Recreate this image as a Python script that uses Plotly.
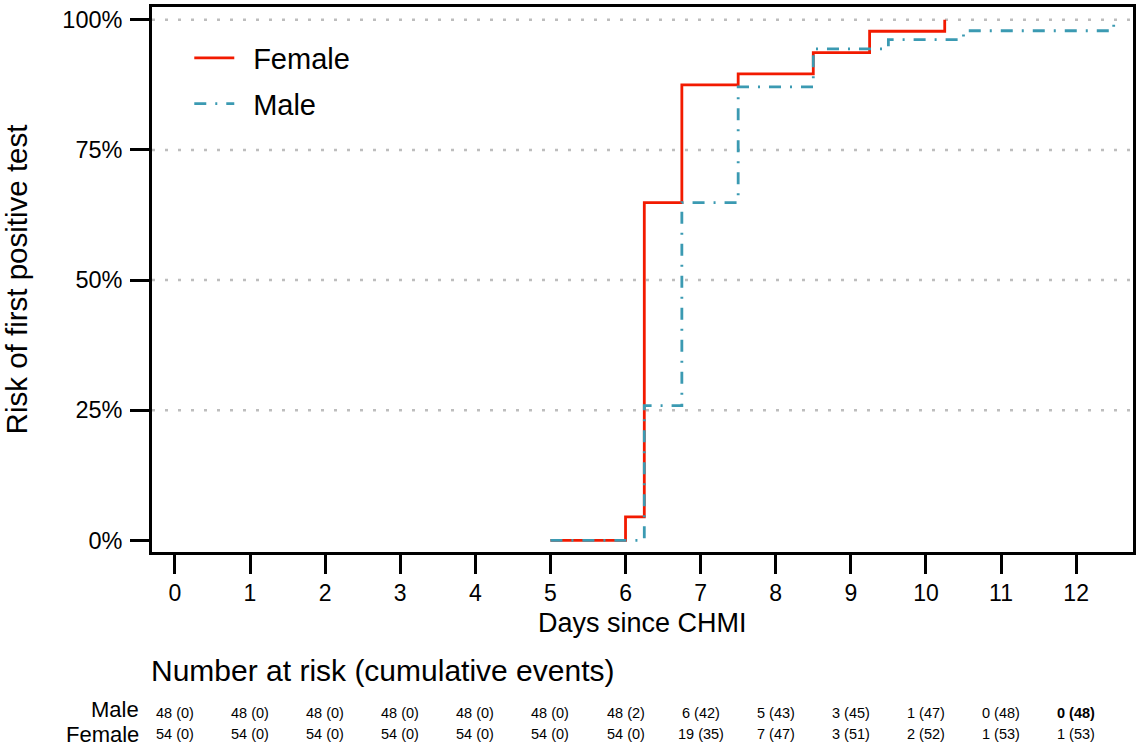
import plotly.graph_objects as go

# ---- data ----
female_days = [5, 6, 6.25, 6.75, 7.5, 8.5, 9.25, 10.25]
female_risk = [0.0, 0.045, 0.649, 0.875, 0.896, 0.937, 0.978, 1.0]
male_days = [5, 6.25, 6.75, 7.5, 8.5, 9.5, 10.5, 12.5]
male_risk = [0.0, 0.259, 0.649, 0.871, 0.944, 0.962, 0.979, 1.0]

table_days = list(range(13))
male_at_risk = ["48 (0)", "48 (0)", "48 (0)", "48 (0)", "48 (0)", "48 (0)", "48 (2)",
                "6 (42)", "5 (43)", "3 (45)", "1 (47)", "0 (48)", "<b>0 (48)</b>"]
female_at_risk = ["54 (0)", "54 (0)", "54 (0)", "54 (0)", "54 (0)", "54 (0)", "54 (0)",
                  "19 (35)", "7 (47)", "3 (51)", "2 (52)", "1 (53)", "1 (53)"]
y_ticks = [0, 0.25, 0.5, 0.75, 1.0]
y_tick_text = ["0%", "25%", "50%", "75%", "100%"]
grid_levels = [0.25, 0.5, 0.75, 1.0]

RED = "#F21A00"
TEAL = "#3B9AB2"
FONT = "Liberation Sans, Arial, Helvetica, sans-serif"
GAP = " \u2009"  # spacing between legend line sample and label

fig = go.Figure()
fig.add_trace(go.Scatter(x=female_days, y=female_risk, mode="lines", name=GAP + "Female",
                         line=dict(color=RED, width=2.8, shape="hv"),
                         legendgroup="f"))
fig.add_trace(go.Scatter(x=male_days, y=male_risk, mode="lines", name=GAP + "Male",
                         line=dict(color=TEAL, width=2.8, shape="hv", dash="12px,9px,2px,9px"),
                         legendgroup="m"))

for g in grid_levels:
    fig.add_shape(type="line", xref="paper", x0=0, x1=1, yref="y", y0=g, y1=g,
                  line=dict(color="#bdbdbd", width=2.5, dash="3px,10px"), layer="below")

# x axis title
fig.add_annotation(text="Days since CHMI", xref="paper", x=0.5, xanchor="center",
                   yref="paper", y=0, yanchor="middle", yshift=552 - 623, showarrow=False,
                   font=dict(size=27, color="black", family=FONT))

# risk table
fig.add_annotation(text="Number at risk (cumulative events)", xref="paper", x=0, xanchor="left",
                   xshift=-3, yref="paper", y=0, yanchor="middle", yshift=552 - 670,
                   showarrow=False, font=dict(size=30, color="black", family=FONT))
for lab, ypix in (("Male", 709), ("Female", 734)):
    fig.add_annotation(text=lab, xref="paper", x=0, xanchor="right", xshift=-12,
                       yref="paper", y=0, yanchor="middle", yshift=552 - ypix, showarrow=False,
                       borderpad=0, font=dict(size=22, color="black", family=FONT))
for d, m, f in zip(table_days, male_at_risk, female_at_risk):
    fig.add_annotation(text=m, xref="x", x=d, xanchor="center", yref="paper", y=0,
                       yanchor="middle", yshift=552 - 713, showarrow=False,
                       font=dict(size=14.5, color="black", family=FONT))
    fig.add_annotation(text=f, xref="x", x=d, xanchor="center", yref="paper", y=0,
                       yanchor="middle", yshift=552 - 734, showarrow=False,
                       font=dict(size=14.5, color="black", family=FONT))

fig.update_layout(
    width=1138, height=748,
    margin=dict(l=152, r=2, t=7, b=196),
    paper_bgcolor="white", plot_bgcolor="white",
    font=dict(family=FONT, color="black"),
    showlegend=True,
    legend=dict(x=0.038, y=0.953, xanchor="left", yanchor="top", bgcolor="rgba(0,0,0,0)",
                font=dict(size=29, family=FONT), tracegroupgap=5, itemwidth=40),
    xaxis=dict(range=[-0.305, 12.757], tickvals=table_days, ticktext=[str(d) for d in table_days],
               showgrid=False, zeroline=False, showline=True, linecolor="black", linewidth=2.7,
               mirror=True, ticks="outside", ticklen=19, tickwidth=2.7, tickcolor="black",
               tickfont=dict(size=23), ticklabelstandoff=0),
    yaxis=dict(range=[-0.0223, 1.0246], tickvals=y_ticks, ticktext=y_tick_text,
               showgrid=False, zeroline=False, showline=True, linecolor="black", linewidth=2.7,
               mirror=True, ticks="outside", ticklen=19, tickwidth=2.7, tickcolor="black",
               tickfont=dict(size=23.5), ticklabelstandoff=3,
               title=dict(text="Risk of first positive test", font=dict(size=29.5), standoff=27)),
)

fig.write_html("out.html")
